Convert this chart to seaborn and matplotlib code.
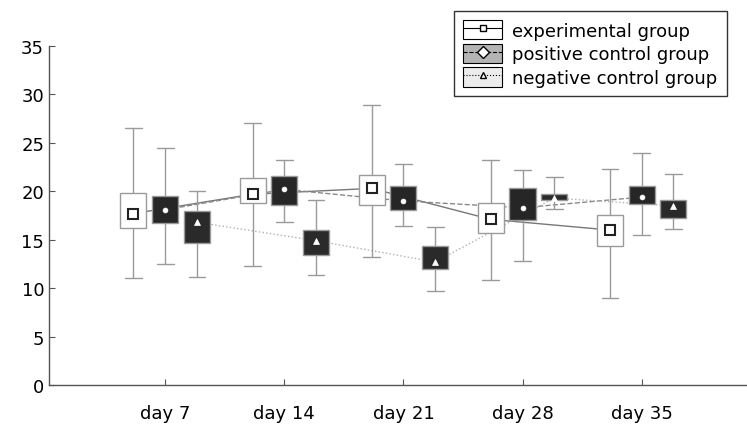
import matplotlib
matplotlib.use('Agg')
import matplotlib.pyplot as plt
from matplotlib.patches import Patch
from matplotlib.lines import Line2D
from matplotlib.legend_handler import HandlerTuple
import pandas as pd
import seaborn as sns

days = ['day 7', 'day 14', 'day 21', 'day 28', 'day 35']
groups = ['experimental group', 'positive control group', 'negative control group']

# per day: whisker low, box low, marker, box high, whisker high
experimental = [[11.0, 16.2, 17.7, 19.8, 26.5],
                [12.3, 18.8, 19.7, 21.4, 27.0],
                [13.2, 18.6, 20.3, 21.7, 28.9],
                [10.8, 15.7, 17.1, 18.8, 23.2],
                [9.0, 14.3, 16.0, 17.6, 22.3]]
positive = [[12.5, 16.7, 18.1, 19.5, 24.5],
            [16.8, 18.6, 20.2, 21.6, 23.2],
            [16.4, 18.1, 19.0, 20.5, 22.8],
            [12.8, 17.0, 18.3, 20.3, 22.2],
            [15.5, 18.7, 19.4, 20.5, 24.0]]
negative = [[11.2, 14.7, 16.8, 18.0, 20.0],
            [11.4, 13.4, 14.9, 16.0, 19.1],
            [9.7, 12.0, 12.7, 14.3, 16.3],
            [18.2, 19.1, 19.3, 19.7, 21.5],
            [16.1, 17.2, 18.5, 19.1, 21.8]]

rows = []
for g, table in zip(groups, [experimental, positive, negative]):
    for d, vals in zip(days, table):
        for v in vals:
            rows.append({'day': d, 'group': g, 'value': v})
df = pd.DataFrame(rows)

sns.set_style('ticks')
plt.rcParams['font.family'] = ['DejaVu Sans']
plt.rcParams['font.size'] = 13
plt.rcParams['text.color'] = 'black'

fig = plt.figure(figsize=(7.47, 4.27), dpi=100)
ax = fig.add_axes([49 / 747, 1 - 386 / 427, 1 - 49 / 747, (386 - 47) / 427])

box_fill = {groups[0]: 'white', groups[1]: '#262626', groups[2]: '#2a2a2a'}
sns.boxplot(data=df, x='day', y='value', hue='group', order=days, hue_order=groups,
            palette=box_fill, whis=(0, 100), width=0.8, gap=0.18, linewidth=1,
            linecolor='#9a9a9a', fliersize=0, medianprops={'linewidth': 0},
            capwidths=0.14, legend=False, ax=ax, zorder=2)

line_cols = {groups[0]: '#777777', groups[1]: '#8a8a8a', groups[2]: '#b0b0b0'}

# connecting lines (behind boxes)
n0 = len(ax.lines)
sns.pointplot(data=df, x='day', y='value', hue='group', order=days, hue_order=groups,
              estimator='median', errorbar=None, dodge=0.5333, palette=line_cols,
              linestyles=['-', '--', ':'], markers=['s', 'o', '^'], linewidth=1,
              legend=False, ax=ax)
for ln in ax.lines[n0:]:
    ln.set_marker('None')
    ln.set_zorder(1)

# markers on top
n1 = len(ax.lines)
sns.pointplot(data=df, x='day', y='value', hue='group', order=days, hue_order=groups,
              estimator='median', errorbar=None, dodge=0.5333, palette=line_cols,
              markers=['s', 'o', '^'], legend=False, ax=ax)
mk_style = [('s', 7.5, 'white', '#222222', 1.5),
            ('o', 3.5, 'white', 'white', 0.5),
            ('^', 4.5, 'white', 'white', 0.5)]
for ln, (m, ms, fc, ec, mew) in zip(ax.lines[n1:], mk_style):
    ln.set_linestyle('None')
    ln.set_marker(m)
    ln.set_markersize(ms)
    ln.set_markerfacecolor(fc)
    ln.set_markeredgecolor(ec)
    ln.set_markeredgewidth(mew)
    ln.set_zorder(4)

ax.set_ylim(0, 35)
ax.set_xlim(-0.976, 4.885)
ax.set_yticks(range(0, 36, 5))
ax.set_xlabel('')
ax.set_ylabel('')
sns.despine(ax=ax)
for s in ['left', 'bottom']:
    ax.spines[s].set_color('#555555')
    ax.spines[s].set_linewidth(1)
ax.tick_params(direction='in', length=4, color='#555555', labelsize=13, labelcolor='black')
ax.tick_params(axis='x', pad=14)

handles = [
    (Patch(facecolor='white', edgecolor='black', linewidth=0.8),
     Line2D([], [], color='black', ls='-', lw=0.8, marker='s', ms=5, mfc='white', mec='black')),
    (Patch(facecolor='#b4b4b4', edgecolor='black', linewidth=0.8),
     Line2D([], [], color='black', ls='--', lw=0.8, marker='D', ms=6, mfc='white', mec='black')),
    (Patch(facecolor='#ececec', edgecolor='black', linewidth=0.8),
     Line2D([], [], color='black', ls=':', lw=0.8, marker='^', ms=5, mfc='white', mec='black')),
]
leg = ax.legend(handles, groups, handler_map={tuple: HandlerTuple(ndivide=1, pad=0)},
                loc='upper right', bbox_to_anchor=(726.7 / 747, 1 - 11.7 / 427),
                bbox_transform=fig.transFigure, borderaxespad=0, fontsize=13,
                handlelength=2.2, handleheight=1.3, labelspacing=0.22,
                handletextpad=0.55, borderpad=0.5, frameon=True, fancybox=False)
leg.get_frame().set_edgecolor('black')
leg.get_frame().set_linewidth(1)

fig.savefig('out.png', dpi=100)
